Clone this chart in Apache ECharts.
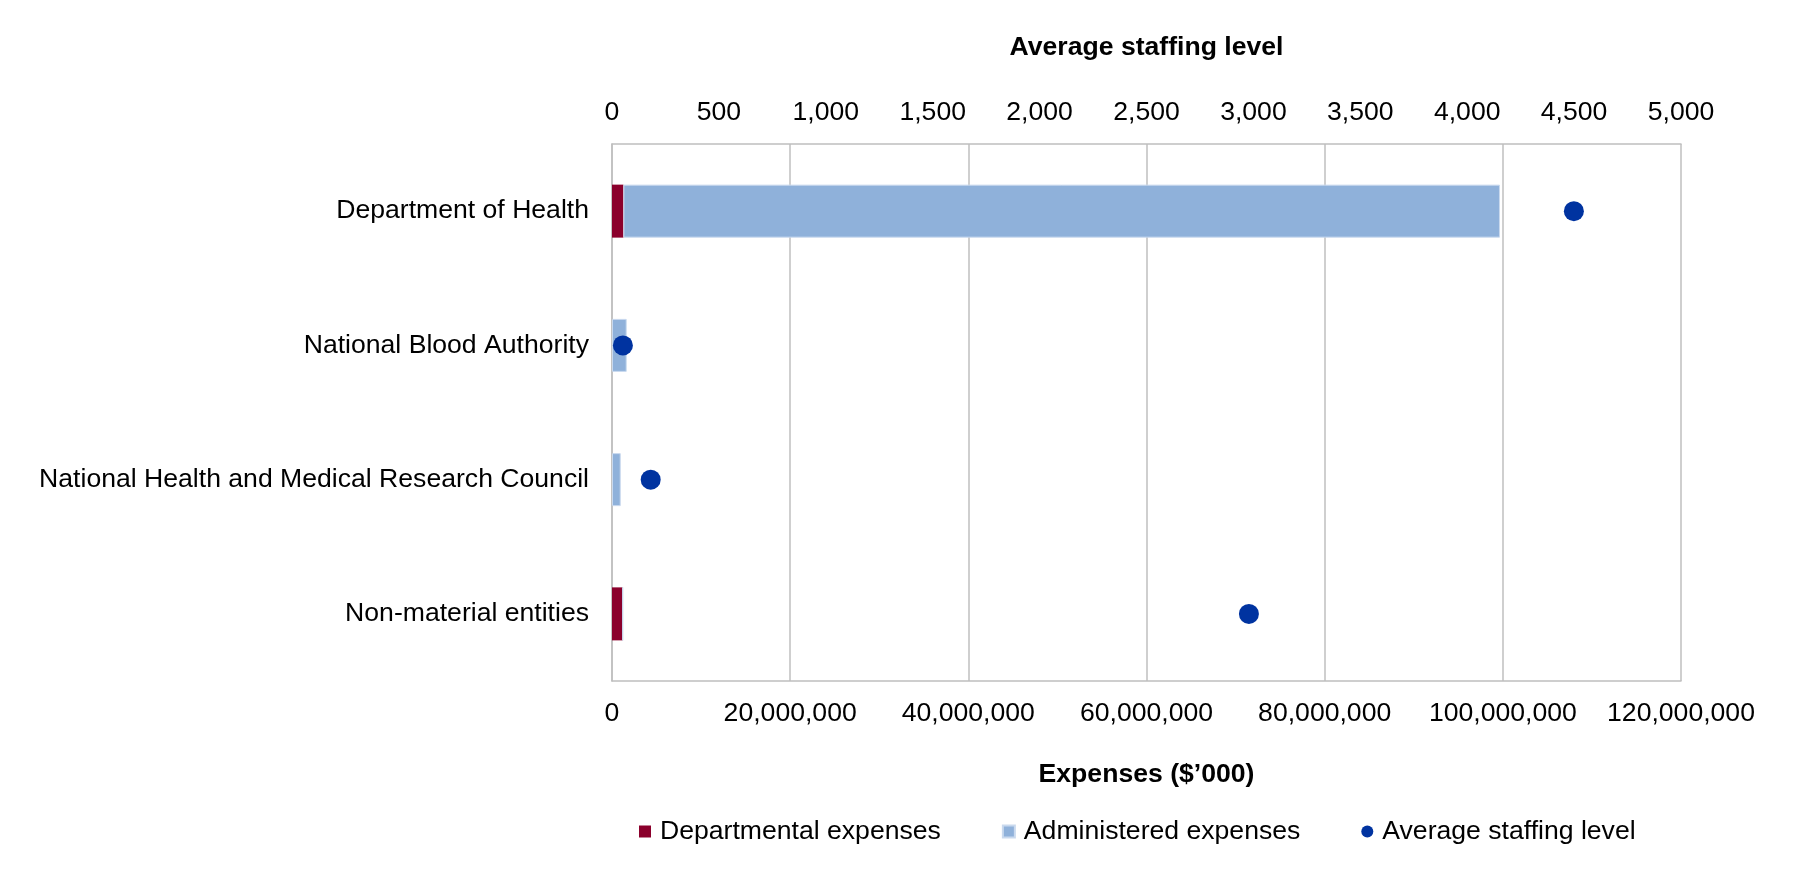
<!DOCTYPE html>
<html>
<head>
<meta charset="utf-8">
<script src="https://cdn.jsdelivr.net/npm/echarts@6/dist/echarts.min.js"></script>
<style>
html,body{margin:0;padding:0;background:#fff;}
#c{width:1800px;height:892px;}
</style>
</head>
<body>
<div id="c"></div>
<script>
const categories = ["Department of Health", "National Blood Authority", "National Health and Medical Research Council", "Non-material entities"];
const departmentalExpenses = [1280000, 0, 0, 1200000];
const administeredExpenses = [98400000, 1650000, 980000, 0];
const averageStaffingLevel = [4499, 51, 181, 2979];
const expenseTicks = { min: 0, max: 120000000, interval: 20000000 };
const staffTicks = { min: 0, max: 5000, interval: 500 };

function comma(v) {
  return String(Math.round(v)).replace(/\B(?=(\d{3})+(?!\d))/g, ",");
}

const FONT = "Liberation Sans, Arial, sans-serif";
const FS = 26.6;
const GRID_COLOR = "#BFBFBF";

const chart = echarts.init(document.getElementById('c'), null, { renderer: 'canvas' });
chart.setOption({
  animation: false,
  backgroundColor: '#ffffff',
  textStyle: { fontFamily: FONT, color: '#000' },
  grid: { left: 612, right: 119, top: 144, bottom: 211, containLabel: false },
  legend: {
    left: 634,
    top: 813,
    itemWidth: 12,
    itemHeight: 12,
    itemGap: 61,
    textStyle: { fontFamily: FONT, fontSize: FS, color: '#000', padding: [0, 0, 0, 4] },
    data: [
      { name: 'Departmental expenses', icon: 'rect' },
      { name: 'Administered expenses', icon: 'rect' },
      { name: 'Average staffing level', icon: 'circle' }
    ]
  },
  xAxis: [
    {
      type: 'value',
      position: 'bottom',
      min: expenseTicks.min, max: expenseTicks.max, interval: expenseTicks.interval,
      name: "Expenses ($\u2019000)",
      nameLocation: 'middle',
      nameGap: 80,
      nameTextStyle: { fontFamily: FONT, fontSize: FS, fontWeight: 'bold', color: '#000' },
      axisLine: { show: true, lineStyle: { color: GRID_COLOR, width: 1.5 } },
      axisTick: { show: false },
      axisLabel: { fontFamily: FONT, fontSize: FS, color: '#000', margin: 19, formatter: comma },
      splitLine: { show: true, lineStyle: { color: GRID_COLOR, width: 1.5 } }
    },
    {
      type: 'value',
      position: 'top',
      min: staffTicks.min, max: staffTicks.max, interval: staffTicks.interval,
      name: 'Average staffing level',
      nameLocation: 'middle',
      nameGap: 83,
      nameTextStyle: { fontFamily: FONT, fontSize: FS, fontWeight: 'bold', color: '#000' },
      axisLine: { show: true, lineStyle: { color: GRID_COLOR, width: 1.5 } },
      axisTick: { show: false },
      axisLabel: { fontFamily: FONT, fontSize: FS, color: '#000', margin: 18, formatter: comma },
      splitLine: { show: false }
    }
  ],
  yAxis: {
    type: 'category',
    inverse: true,
    data: categories,
    axisLine: { show: true, lineStyle: { color: GRID_COLOR, width: 1.5 } },
    axisTick: { show: false },
    axisLabel: { fontFamily: FONT, fontSize: FS, color: '#000', margin: 23 }
  },
  series: [
    {
      name: 'Departmental expenses',
      type: 'bar',
      stack: 'exp',
      xAxisIndex: 0,
      barWidth: 53,
      itemStyle: { color: '#8B002C' },
      data: departmentalExpenses
    },
    {
      name: 'Administered expenses',
      type: 'bar',
      stack: 'exp',
      xAxisIndex: 0,
      barWidth: 53,
      itemStyle: { color: '#8FB1DA', borderColor: '#C9D9EE', borderWidth: 1 },
      data: administeredExpenses
    },
    {
      name: 'Average staffing level',
      type: 'scatter',
      xAxisIndex: 1,
      symbol: 'circle',
      symbolSize: 20,
      itemStyle: { color: '#0033A0', opacity: 1 },
      z: 5,
      data: averageStaffingLevel.map((v, i) => [v, categories[i]])
    }
  ]
});
</script>
</body>
</html>
